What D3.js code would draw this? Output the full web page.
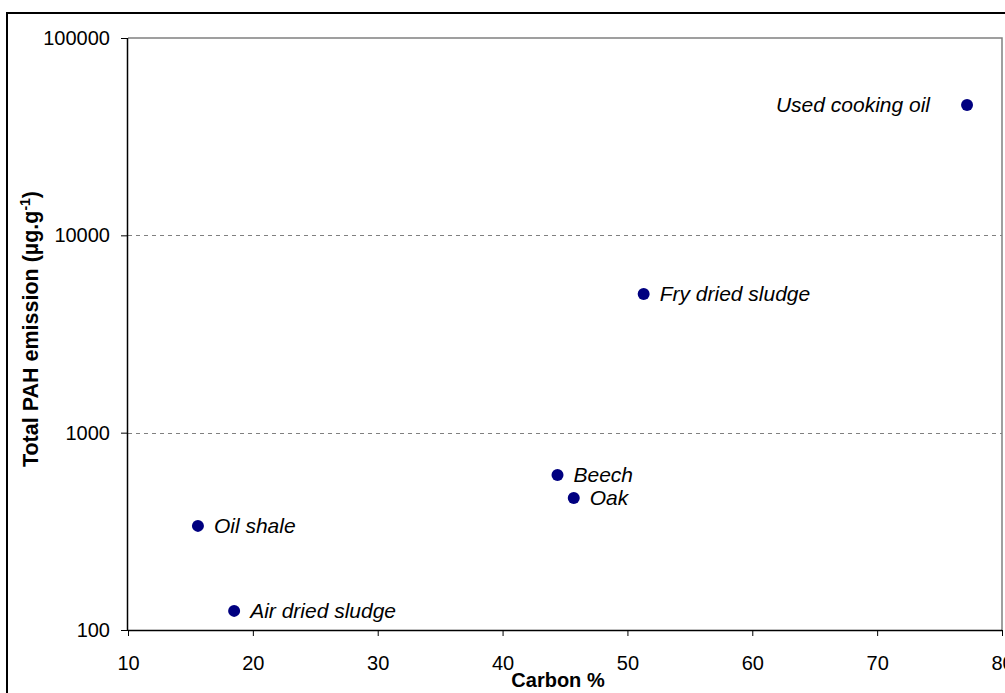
<!DOCTYPE html>
<html><head><meta charset="utf-8">
<script src="https://cdn.jsdelivr.net/npm/d3@7"></script>
<style>body{margin:0;background:#fff;}svg{display:block;font-family:Arial,"Liberation Sans",sans-serif;}</style>
</head><body>
<svg id="c" width="1005" height="693"></svg>
<script>
const names = ["Used cooking oil","Fry dried sludge","Beech","Oak","Oil shale","Air dried sludge"];
const carbon = [77.2, 51.3, 44.4, 45.7, 15.6, 18.5];
const pah = [45700, 5050, 610, 467, 337, 125];
const labelSide = ["left","right","right","right","right","right"];
const xTicks = [10,20,30,40,50,60,70,80];
const yTicks = [100,1000,10000,100000];
const gridVals = [1000,10000];

const svg = d3.select("#c");
const FONT = "Arial,'Liberation Sans',sans-serif";
const L=128, R=1002, T=38, B=630;
const x = d3.scaleLinear().domain([10,80]).range([L,R]);
const y = d3.scaleLog().domain([100,100000]).range([B,T]);

// outer border
svg.append("rect").attr("x",7).attr("y",13).attr("width",1100).attr("height",800)
  .attr("fill","none").attr("stroke","#000").attr("stroke-width",2);

// plot frame (grey top/right)
svg.append("path").attr("d",`M${L},${T}H${R}V${B}`).attr("fill","none").attr("stroke","#808080").attr("stroke-width",1.5);

// gridlines
svg.append("g").selectAll("line").data(gridVals).join("line")
  .attr("x1",L).attr("x2",R).attr("y1",d=>Math.round(y(d))+0.5).attr("y2",d=>Math.round(y(d))+0.5)
  .attr("stroke","#808080").attr("stroke-dasharray","4,4").attr("stroke-width",1);

// axes
const xAxis = d3.axisBottom(x).tickValues(xTicks).tickSize(6).tickPadding(0).tickFormat(d3.format("d"));
const gx = svg.append("g").attr("transform",`translate(0,${B})`).call(xAxis);
gx.select(".domain").attr("stroke","#000").attr("stroke-width",1.5).attr("d",`M${L},0.5H${R}`);
gx.selectAll(".tick line").attr("stroke","#000");
gx.selectAll("text").attr("font-size",20).attr("fill","#000").attr("font-family",FONT)
  .attr("dy",null).attr("y",40);

const yAxis = d3.axisLeft(y).tickValues(yTicks).tickSize(7).tickPadding(11).tickFormat(d3.format("d"));
const gy = svg.append("g").attr("transform",`translate(${L},0)`).call(yAxis);
gy.select(".domain").attr("stroke","#000").attr("stroke-width",1.5).attr("d",`M-0.5,${T}V${B}`);
gy.selectAll(".tick line").attr("stroke","#000");
gy.selectAll("text").attr("font-size",20).attr("fill","#000").attr("font-family",FONT);

// axis titles
svg.append("text").attr("x",558).attr("y",687).attr("text-anchor","middle")
  .attr("font-size",20).attr("font-weight","bold").text("Carbon %");
const yt = svg.append("text").attr("transform","translate(38,329) rotate(-90)").attr("text-anchor","middle")
  .attr("font-size",21.5).attr("font-weight","bold");
yt.append("tspan").text("Total PAH emission (µg.g");
yt.append("tspan").attr("baseline-shift","super").attr("font-size",14).text("-1");
yt.append("tspan").text(")");

// points
const data = names.map((n,i)=>({n, c:carbon[i], p:pah[i], side:labelSide[i]}));
svg.append("g").selectAll("circle").data(data).join("circle")
  .attr("cx",d=>x(d.c)).attr("cy",d=>y(d.p)).attr("r",6).attr("fill","#000080");
svg.append("g").selectAll("text").data(data).join("text")
  .attr("x",d=>d.side==="left"? x(d.c)-37 : x(d.c)+16)
  .attr("y",d=>y(d.p)+7)
  .attr("text-anchor",d=>d.side==="left"?"end":"start")
  .attr("font-size",21).attr("font-style","italic").attr("fill","#000").attr("font-family",FONT)
  .text(d=>d.n);
</script>
</body></html>
